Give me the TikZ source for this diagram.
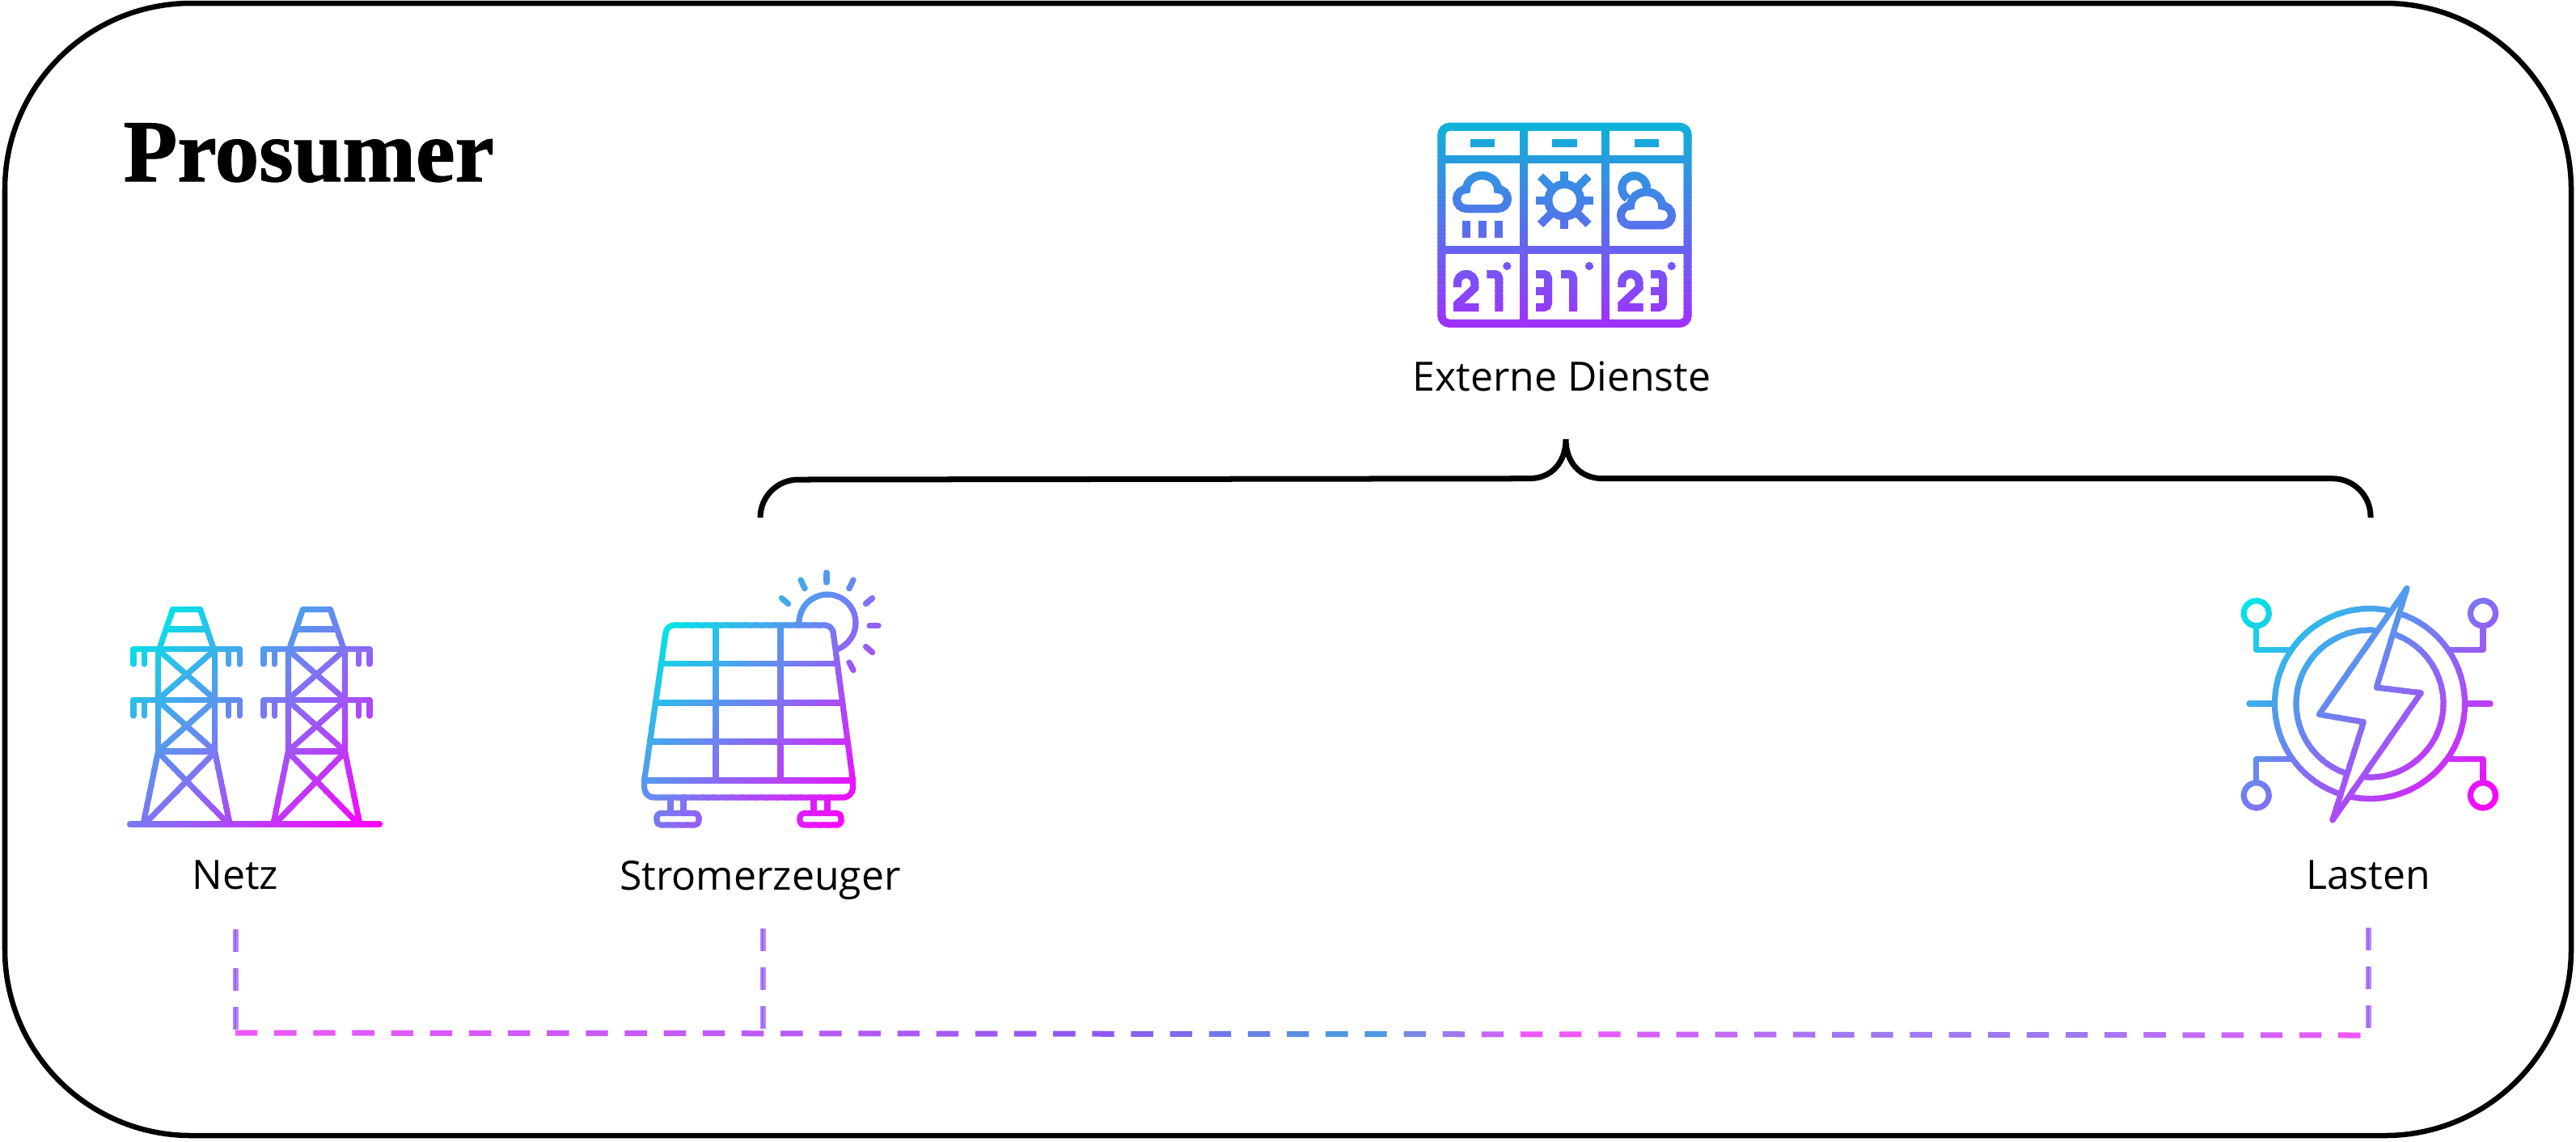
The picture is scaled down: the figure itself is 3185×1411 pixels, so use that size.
\documentclass[tikz,border=0pt]{standalone}
\usepackage{fontspec}
\setmainfont{Open Sans}
\newfontfamily\titelfont[BoldFeatures={FakeBold=1.2}]{Liberation Serif}
\usetikzlibrary{calc}

\definecolor{iconcyan}{HTML}{00E5E5}
\definecolor{iconpink}{HTML}{FF00FF}
\definecolor{wettertop}{HTML}{0CB4D8}
\definecolor{wetterbottom}{HTML}{A030FF}
\definecolor{linkpink}{HTML}{EE58F8}
\definecolor{linkviolet}{HTML}{BC5AF8}
\definecolor{linkdeep}{HTML}{9058F0}
\definecolor{linkblue}{HTML}{5098E0}
\definecolor{linklila}{HTML}{A078F0}
\definecolor{linkpale}{HTML}{C67CFB}
\definecolor{linkcore}{HTML}{7C72EA}

\tikzset{
  px/.style={x=.01cm,y=.01cm,yscale=-1},
  iconline/.style={line width=.072cm,line cap=round,line join=round},
  iconblock/.style={line width=.1cm,line cap=butt,line join=miter},
  rahmen/.style={draw,line width=.065cm,rounded corners=2.3cm},
  klammer/.style={draw,line width=.07cm},
  beschriftung/.style={font=\fontsize{14.2}{17}\selectfont,anchor=base,inner sep=0pt},
  titel/.style={font=\titelfont\bfseries\fontsize{31}{37}\selectfont,anchor=base west,inner sep=0pt},
  linkdown/.style={draw=linkcore,line width=.024cm,dash pattern=on .275cm off .205cm,
    preaction={draw=linkpale,line width=.07cm,dash pattern=on .275cm off .205cm}},
  linkdash/.style={line width=.07cm}
}

\newcommand\mast[1]{
  \begin{scope}[shift={(#1,0)}]
    \draw (-33.5,802) -- (-17,753.5) -- (17,753.5) -- (33.5,802);
    \draw (-25,778) -- (25,778);
    \foreach \army/\armu in {802.5/821,865.7/885}{
      \draw (-65.5,\armu) -- (-65.5,\army) -- (65.5,\army) -- (65.5,\armu);
      \draw (-52,\army) -- (-52,\armu);
      \draw (52,\army) -- (52,\armu);
    }
    \draw (-53.5,1019) -- (-35,929) -- (-35,802.5);
    \draw (53.5,1019) -- (35,929) -- (35,802.5);
    \draw (-32,806) -- (32,862);
    \draw (32,806) -- (-32,862);
    \draw (-32,869) -- (32,926);
    \draw (32,869) -- (-32,926);
    \draw (-35,929) -- (35,929);
    \draw (-32,933) -- (50,1017);
    \draw (32,933) -- (-50,1017);
  \end{scope}
}
\newcommand\wolke[2]{
  \begin{scope}[shift={(#1,#2)}]
    \draw (1813,258) arc[start angle=90,end angle=270,radius=12]
      arc[start angle=180,end angle=360,x radius=19.5,y radius=17]
      arc[start angle=270,end angle=450,radius=12] -- cycle;
  \end{scope}
}
\newcommand\zifferzwei[1]{
  \begin{scope}[shift={(#1,334)}]
    \draw (5,21) -- (5,15.5) arc[start angle=180,end angle=360,radius=10.65]
      -- (26.3,22) -- (5,42) -- (5,46) -- (31.3,46);
  \end{scope}
}
\newcommand\ziffereins[1]{
  \begin{scope}[shift={(#1,334)}]
    \draw[rounded corners=.05cm] (0,5) -- (15,5) -- (15,51);
  \end{scope}
}
\newcommand\zifferdrei[1]{
  \begin{scope}[shift={(#1,334)}]
    \draw[rounded corners=.05cm] (0,5) -- (15,5) -- (15,26);
    \draw[rounded corners=.05cm] (15,26) -- (15,46) -- (0,46);
    \draw (0,26) -- (15,26);
  \end{scope}
}
\newcommand\mastbild{
  \mast{230.6}
  \mast{391.4}
  \draw (160.5,1019) -- (469.5,1019);
}
\newcommand\panelbild{
  \draw[rounded corners=.09cm] (796.6,965) -- (824.4,773) -- (1029,773) -- (1054.5,965);
  \draw[rounded corners=.12cm] (796.6,965) -- (796.6,986) -- (1054.5,986) -- (1054.5,965);
  \draw (817.4,820.7) -- (1035.4,820.7);
  \draw (810.5,869) -- (1041.8,869);
  \draw (803.5,917) -- (1048.1,917);
  \draw (796.6,965) -- (1054.5,965);
  \draw (885,773) -- (885,965);
  \draw (965,773) -- (965,965);
  \draw (829,986) -- (829,1005);
  \draw (845,986) -- (845,1005);
  \draw (1006,986) -- (1006,1005);
  \draw (1023,986) -- (1023,1005);
  \draw[rounded corners=.05cm] (812,1005.5) rectangle (864,1020);
  \draw[rounded corners=.05cm] (989,1005.5) rectangle (1040,1020);
  \draw (988,770) arc[start angle=180,end angle=428.5,radius=35];
  \draw (1022,708) -- (1022,720);
  \draw (990,717) -- (995,727.5);
  \draw (1055,717) -- (1050,727.5);
  \draw (966.5,739.5) -- (974.5,746.5);
  \draw (1078.5,739.5) -- (1070.5,746.5);
  \draw (1075,773.5) -- (1086,773.5);
  \draw (1070.5,799.5) -- (1078.5,806.5);
  \draw (1050,819) -- (1055,828.5);
}
\newcommand\lastbild{
  \foreach \ra/\sa/\ea in {117.5/-79/-251,117.5/-258/-430,91/-87/-251,91/-266/-430.5}{
    \draw ([shift={(\sa:\ra)}]2930,870) arc[start angle=\sa,end angle=\ea,radius=\ra];
  }
  \draw (2976,727.3) -- (2867.3,883.3) -- (2922.3,892.7) -- (2884,1014) -- (2993.3,856.7) -- (2938.3,850) -- cycle;
  \draw (2789.7,758.3) circle[radius=15.5];
  \draw (3070,758.3) circle[radius=15.5];
  \draw (2789.7,983.3) circle[radius=15.5];
  \draw (3070,983.3) circle[radius=15.5];
  \draw (2789.7,773.8) -- (2789.7,803.3) -- (2831.7,803.3);
  \draw (3070,773.8) -- (3070,803.3) -- (3028.3,803.3);
  \draw (2789.7,967.8) -- (2789.7,938.3) -- (2831.7,938.3);
  \draw (3070,967.8) -- (3070,938.3) -- (3028.3,938.3);
  \draw (2781,870) -- (2809,870);
  \draw (3051,870) -- (3079,870);
}
\newcommand\wetterbild{
  \draw[rounded corners=.1cm] (1782.3,156.7) rectangle (2086.7,400);
  \draw (1884,156.7) -- (1884,400);
  \draw (1985,156.7) -- (1985,400);
  \draw (1782.3,197) -- (2086.7,197);
  \draw (1782.3,309) -- (2086.7,309);
  \draw (1818,177) -- (1848,177);
  \draw (1919,177) -- (1950,177);
  \draw (2021,177) -- (2051,177);
  \wolke{0}{0}
  \draw (1812.7,273.3) -- (1812.7,293.7);
  \draw (1833,273.3) -- (1833,293.7);
  \draw (1853,273.3) -- (1853,293.7);
  \draw (1934.3,247.7) circle[radius=20];
  \foreach \wi/\la in {0/35.3,45/42,90/35.3,135/42,180/35.3,225/42,270/35.3,315/42}{
    \draw ([shift={(\wi:20)}]1934.3,247.7) -- ([shift={(\wi:\la)}]1934.3,247.7);
  }
  \wolke{203}{20.3}
  \draw (2036,232.7) arc[start angle=0,end angle=-236,radius=15.3];
  \zifferzwei{1797}
  \ziffereins{1838.3}
  \zifferdrei{1899}
  \ziffereins{1930}
  \zifferzwei{2000.3}
  \zifferdrei{2041}
  \fill (1863.3,329) circle[radius=5];
  \fill (1965,329) circle[radius=5];
  \fill (2066.7,329) circle[radius=5];
}

% icon #1 in diagonal bands over the box x #2, y #3, size #4 x #5, colour runs from t=#6 to t=#7
\newcommand\verlauf[7]{
  \foreach \k in {0,...,49}{
    \pgfmathsetmacro\ta{\k/50}
    \pgfmathsetmacro\tb{(\k+1.3)/50}
    \pgfmathtruncatemacro\mix{100*min(1,max(0,((\k+.5)/50-#6)/(#7-#6)))}
    \begin{scope}[iconline,color=iconpink!\mix!iconcyan]
      \clip ({#2+\ta*#4+#4},{#3+\ta*#5-#5}) -- ({#2+\tb*#4+#4},{#3+\tb*#5-#5})
        -- ({#2+\tb*#4-#4},{#3+\tb*#5+#5}) -- ({#2+\ta*#4-#4},{#3+\ta*#5+#5}) -- cycle;
      #1
    \end{scope}
  }
}

\begin{document}
\begin{tikzpicture}[px]
\useasboundingbox (0,0) rectangle (3185,1411);

\path[rahmen] (6,4) rectangle (3179,1404);
\node (prosumer) at (152,224) [titel] {Prosumer};

\verlauf{\mastbild}{154}{745}{322}{280}{.08}{.97}
\verlauf{\panelbild}{790}{702}{302}{325}{.16}{.91}
\verlauf{\lastbild}{2771}{722}{318}{296}{.045}{.96}

\foreach \k in {0,...,49}{
  \pgfmathsetmacro\ya{151.5+\k*5.07}
  \pgfmathsetmacro\yb{151.5+(\k+1.3)*5.07}
  \pgfmathtruncatemacro\mix{2*\k+1}
  \begin{scope}[iconblock,color=wetterbottom!\mix!wettertop]
    \clip (1777,\ya) rectangle (2092,\yb);
    \wetterbild
  \end{scope}
}

\node (netz) at (291,1099) [beschriftung] {Netz};
\node (erzeuger) at (940,1100) [beschriftung] {Stromerzeuger};
\node (lasten) at (2928,1099) [beschriftung] {Lasten};
\node (dienste) at (1931,483) [beschriftung] {Externe Dienste};

\coordinate (klammerl) at (940,640);
\coordinate (klammerm) at (1936,543);
\coordinate (klammerr) at (2931,640);
\path[klammer] (klammerl) arc[start angle=180,end angle=270,radius=47] -- (1890,591.7)
  .. controls (1920,591.7) and (1936,570) .. (klammerm)
  .. controls (1936,570) and (1952,591.7) .. (1982,591.7) -- (2884,591.7)
  arc[start angle=270,end angle=360,radius=47] -- (klammerr);

\coordinate (netzoben) at (291,1149);
\coordinate (netzknick) at (291,1277);
\coordinate (erzoben) at (943,1148);
\coordinate (erzknick) at (943,1277);
\coordinate (lastoben) at (2928,1147);
\coordinate (lastknick) at (2928,1280);
\draw[linkdown] (netzoben) -- (netzknick);
\draw[linkdown] (erzoben) -- (erzknick);
\draw[linkdown] (lastoben) -- (lastknick);

\foreach \ia/\ib/\ca/\cb in {0/13/linkpink/linkviolet,14/21/linkviolet/linkdeep,22/28/linkdeep/linkblue,
  29/33/linkblue/linkpink,34/41/linkpink/linklila,42/46/linklila/linklila,47/54/linklila/linkpink}{
  \foreach \i in {\ia,...,\ib}{
    \pgfmathtruncatemacro\mix{100*(\i-\ia)/(\ib-\ia)}
    \draw[linkdash,draw=\cb!\mix!\ca]
      ($(netzknick)!{\i*48.15/2637}!(lastknick)$) -- ($(netzknick)!{(\i*48.15+27.4)/2637}!(lastknick)$);
  }
}
\end{tikzpicture}
\end{document}
